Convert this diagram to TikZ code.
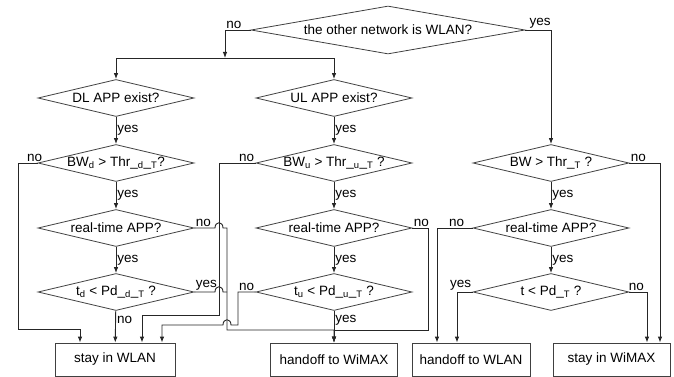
\documentclass[tikz,border=0pt]{standalone}
\usepackage{fontspec}
\setmainfont{Liberation Sans}
\usetikzlibrary{shapes.geometric,arrows.meta}
\newcommand{\dq}[1]{\makebox[0pt]{#1}}

\begin{document}
\begin{tikzpicture}[x=1pt, y=-1pt, font=\fontsize{13.5}{15}\selectfont,
    line/.style={draw=black!85, line width=0.9pt},
    arr/.style={line, -{Latex[length=6pt,width=4.5pt]}},
    ask/.style={diamond, draw=black!75, line width=0.8pt, inner sep=0pt,
                minimum width=156pt, minimum height=37pt},
    endbox/.style={rectangle, draw=black!75, line width=0.8pt,
                   minimum height=33pt, inner sep=0pt},
    lbl/.style={inner sep=1pt}]
    \useasboundingbox (0,0) rectangle (674,377);

    % Decisions
    \node[ask, minimum width=274pt, minimum height=48pt] (top) at (388,30)
        {\dq{the other network is WLAN?}};
    \node[ask] (dlapp) at (116,98)  {\dq{DL APP exist?}};
    \node[ask] (ulapp) at (334,98)  {\dq{UL APP exist?}};
    \node[ask] (bwd)   at (116,163) {\dq{BW\textsubscript{d} > Thr\_\textsubscript{d}\_\textsubscript{T}?}};
    \node[ask] (bwu)   at (334,163) {\dq{BW\textsubscript{u} > Thr\_\textsubscript{u}\_\textsubscript{T} ?}};
    \node[ask] (bw)    at (551,163) {\dq{BW > Thr\_\textsubscript{T} ?}};
    \node[ask] (rtd)   at (116,228) {\dq{real-time APP?}};
    \node[ask] (rtu)   at (334,228) {\dq{real-time APP?}};
    \node[ask] (rt)    at (551,228) {\dq{real-time APP?}};
    \node[ask] (pdd)   at (116,292) {\dq{t\textsubscript{d} < Pd\_\textsubscript{d}\_\textsubscript{T} ?}};
    \node[ask] (pdu)   at (334,292) {\dq{t\textsubscript{u} < Pd\_\textsubscript{u}\_\textsubscript{T} ?}};
    \node[ask] (pd)    at (551,292) {\dq{t < Pd\_\textsubscript{T} ?}};

    % Outcomes
    \node[endbox, minimum width=120pt] (wlan)    at (115,359.5)   {stay in WLAN};
    \node[endbox, minimum width=127pt] (towimax) at (334,359.5)   {handoff to WiMAX};
    \node[endbox, minimum width=118pt] (towlan)  at (471,359.5)   {handoff to WLAN};
    \node[endbox, minimum width=117pt] (wimax)   at (611.5,359.5) {stay in WiMAX};

    % Corner points and crossings
    \coordinate (split) at (225,58);
    \coordinate (hopa)  at (219,228);
    \coordinate (hopb)  at (219,292);
    \coordinate (hopc)  at (227,325);
    \coordinate (wmx)   at (227,330);

    % First split
    \draw[arr] (top.west) -| node[lbl, anchor=south west, pos=0.5] {no} (split);
    \draw[arr] (split) -| (dlapp.north);
    \draw[arr] (split) -| (ulapp.north);
    \draw[arr] (top.east) -| node[lbl, anchor=south, pos=0.5, xshift=-11pt] {yes} (bw.north);

    % Straight yes branches
    \foreach \a/\b in {dlapp/bwd, bwd/rtd, rtd/pdd, ulapp/bwu, bwu/rtu, rtu/pdu, bw/rt, rt/pd}
        \draw[arr] (\a) -- node[lbl, right] {yes} (\b);
    \draw[arr] (pdd) -- node[lbl, right, pos=0.3] {no} (wlan);
    \draw[arr] (pdu.south) -- node[lbl, right, pos=0.3] {yes} (pdu.south |- towimax.north);

    % Left column
    \draw[arr] (bwd.west) node[lbl, anchor=south east, xshift=6pt] {no}
        -| (18,329) -| ([xshift=-35pt]wlan.north);
    \draw[arr] (rtd.east) node[lbl, anchor=south west] {no}
        -- ([xshift=-4pt]hopa) .. controls +(0,-7) and +(0,-7) .. ([xshift=4pt]hopa)
        -| (wmx) -| (towimax.north);
    \draw[line] (pdd.east) node[lbl, anchor=south west] {yes}
        -- ([xshift=-4pt]hopb) .. controls +(0,-7) and +(0,-7) .. ([xshift=4pt]hopb)
        -- (227,292);

    % Middle column
    \draw[arr] (bwu.west) node[lbl, anchor=south east] {no}
        -| (219,315) -| ([xshift=27pt]wlan.north);
    \draw[arr] (pdu.west) node[lbl, anchor=south east] {no}
        -| (238,325) -- ([xshift=4pt]hopc) .. controls +(0,-7) and +(0,-7) .. ([xshift=-4pt]hopc)
        -| ([xshift=47pt]wlan.north);
    \draw[arr] (rtu.east) node[lbl, anchor=south west] {no}
        -| (428,330) -| (towimax.north);

    % Right column
    \draw[arr] (bw.east) node[lbl, anchor=south west] {no}
        -| ([xshift=48.5pt]wimax.north);
    \draw[arr] (rt.west) node[lbl, anchor=south east, xshift=-7pt] {no}
        -| ([xshift=-34pt]towlan.north);
    \draw[arr] (pd.west) node[lbl, anchor=south east] {yes}
        -| ([xshift=-14pt]towlan.north);
    \draw[arr] (pd.east) node[lbl, anchor=south west, xshift=-2pt] {no}
        -| ([xshift=35.5pt]wimax.north);
\end{tikzpicture}
\end{document}
